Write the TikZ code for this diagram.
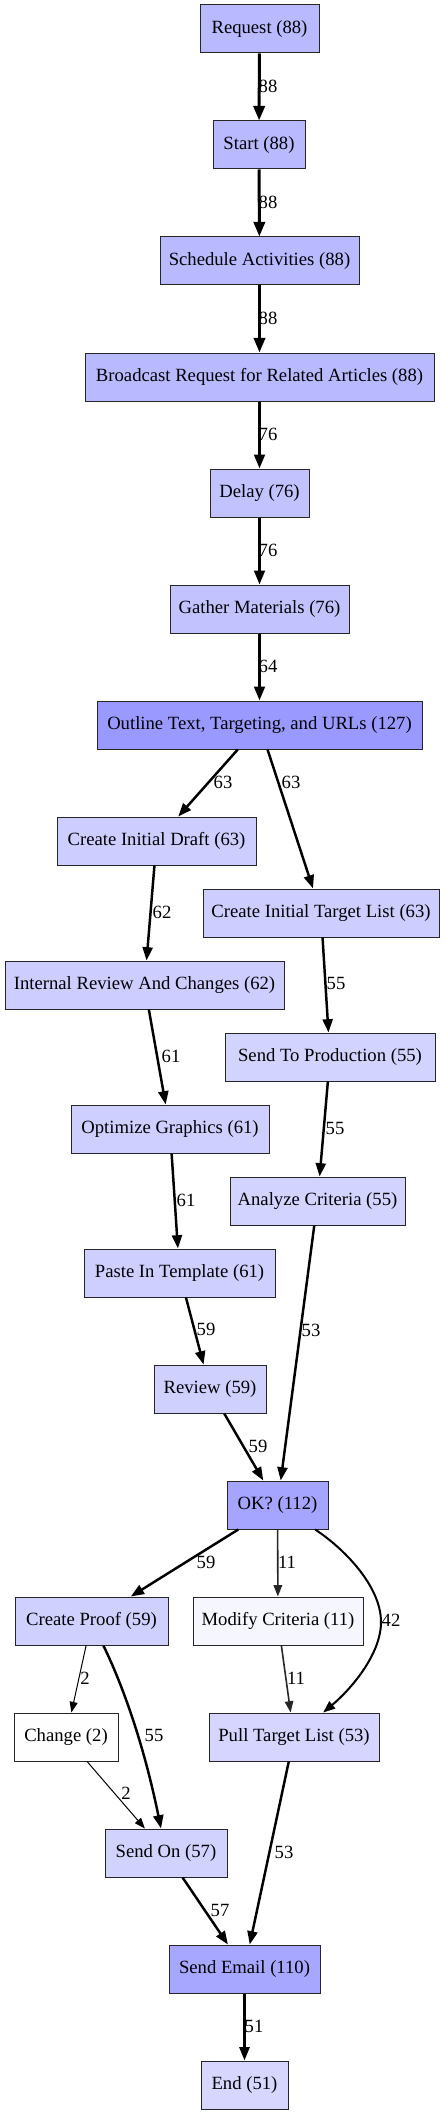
\documentclass[tikz,border=0pt]{standalone}
\usepackage{fontspec}
\setmainfont{Liberation Serif}
\usetikzlibrary{arrows.meta}
\definecolor{c127}{RGB}{153,153,255}
\definecolor{c112}{RGB}{165,165,255}
\definecolor{c110}{RGB}{167,167,255}
\definecolor{c88}{RGB}{185,185,255}
\definecolor{c76}{RGB}{194,194,255}
\definecolor{c63}{RGB}{205,205,255}
\definecolor{c62}{RGB}{205,205,255}
\definecolor{c61}{RGB}{206,206,255}
\definecolor{c59}{RGB}{208,208,255}
\definecolor{c57}{RGB}{210,210,255}
\definecolor{c55}{RGB}{211,211,255}
\definecolor{c53}{RGB}{213,213,255}
\definecolor{c51}{RGB}{214,214,255}
\definecolor{c11}{RGB}{246,246,255}
\definecolor{c2}{RGB}{254,254,255}
\begin{document}
\begin{tikzpicture}[x=0.75pt,y=-0.75pt,
  box/.style={draw=black!85,line width=0.75pt,rectangle,inner sep=0pt,minimum height=36pt,font=\fontsize{14}{16}\selectfont},
  lbl/.style={inner sep=0pt,text height=9.46pt,text depth=0pt,font=\fontsize{14}{16}\selectfont},
  ea/.style={draw=black,line width=2.25pt,-{Triangle[length=11pt,width=8.5pt]}},
  eb/.style={draw=black,line width=2.05pt,-{Triangle[length=10.5pt,width=8pt]}},
  ec/.style={draw=black,line width=1.85pt,-{Triangle[length=10pt,width=7.5pt]}},
  ed/.style={draw=black,line width=1.5pt,-{Triangle[length=9pt,width=6.8pt]}},
  ee/.style={draw=black!85,line width=1.2pt,-{Triangle[length=8.5pt,width=6.3pt]}},
  ef/.style={draw=black,line width=0.75pt,-{Triangle[length=8pt,width=6pt]}}]
\useasboundingbox (0,0) rectangle (444,2115);
\fill[white] (0,0) rectangle (444,2115);
% nodes
\node[box,fill=c88,minimum width=89.25pt] (req) at (259.5,29) {Request (88)};
\node[box,fill=c88,minimum width=69pt] (start) at (259,145) {Start (88)};
\node[box,fill=c88,minimum width=149.25pt] (sched) at (259.5,261) {Schedule Activities (88)};
\node[box,fill=c88,minimum width=261.75pt] (bcast) at (259.5,377) {Broadcast Request for Related Articles (88)};
\node[box,fill=c76,minimum width=74.25pt] (delay) at (259.5,493) {Delay (76)};
\node[box,fill=c76,minimum width=134.25pt] (gather) at (259.5,609) {Gather Materials (76)};
\node[box,fill=c127,minimum width=243.75pt] (outline) at (259.5,725) {Outline Text, Targeting, and URLs (127)};
\node[box,fill=c63,minimum width=149.25pt] (draft) at (156.5,841) {Create Initial Draft (63)};
\node[box,fill=c63,minimum width=177pt] (tlist) at (321,913) {Create Initial Target List (63)};
\node[box,fill=c62,minimum width=209.25pt] (internal) at (144.5,985) {Internal Review And Changes (62)};
\node[box,fill=c55,minimum width=157.5pt] (sendprod) at (330,1057) {Send To Production (55)};
\node[box,fill=c61,minimum width=148.5pt] (optimize) at (170,1129) {Optimize Graphics (61)};
\node[box,fill=c55,minimum width=131.25pt] (analyze) at (317.5,1201) {Analyze Criteria (55)};
\node[box,fill=c61,minimum width=143.25pt] (paste) at (179.5,1273) {Paste In Template (61)};
\node[box,fill=c59,minimum width=84pt] (review) at (210,1389) {Review (59)};
\node[box,fill=c112,minimum width=75.75pt] (ok) at (277.5,1505) {OK? (112)};
\node[box,fill=c59,minimum width=114.75pt] (proof) at (91.5,1621) {Create Proof (59)};
\node[box,fill=c11,minimum width=127.5pt] (modify) at (278,1621) {Modify Criteria (11)};
\node[box,fill=c2,minimum width=78pt] (change) at (66,1737) {Change (2)};
\node[box,fill=c53,minimum width=127.5pt] (pull) at (294,1737) {Pull Target List (53)};
\node[box,fill=c57,minimum width=91.5pt] (sendon) at (166,1853) {Send On (57)};
\node[box,fill=c110,minimum width=113.25pt] (email) at (244.5,1969) {Send Email (110)};
\node[box,fill=c51,minimum width=65.25pt] (end) at (244.5,2085) {End (51)};
% edges
\draw[ea] (req) -- (start);
\draw[ea] (start) -- (sched);
\draw[ea] (sched) -- (bcast);
\draw[eb] (bcast) -- (delay);
\draw[eb] (delay) -- (gather);
\draw[eb] (gather) -- (outline);
\draw[ec] (outline) -- (draft);
\draw[ec] (outline) -- (tlist);
\draw[ec] (draft) -- (internal);
\draw[ec] (tlist) -- (sendprod);
\draw[ec] (internal) -- (optimize);
\draw[ec] (sendprod) -- (analyze);
\draw[ec] (optimize) -- (paste);
\draw[ec] (analyze) -- (ok);
\draw[ec] (paste) -- (review);
\draw[ec] (review) -- (ok);
\draw[ec] (ok) -- (proof);
\draw[ee] (ok) -- (modify);
\coordinate (bend42) at (381,1622);
\draw[ed] (ok) .. controls (342,1547) and (381,1585) .. (bend42) .. controls (381,1655) and (350,1690) .. (pull);
\draw[ef] (proof) -- (change);
\draw[ee] (modify) -- (pull);
\draw[ec] (proof) .. controls (125,1690) and (145,1750) .. (sendon);
\draw[ef] (change) -- (sendon);
\draw[ec] (pull) -- (email);
\draw[ec] (sendon) -- (email);
\draw[ec] (email) -- (end);
% edge labels
\node[lbl] (l1) at (268,86) {88};
\node[lbl] (l2) at (268,202) {88};
\node[lbl] (l3) at (268,318) {88};
\node[lbl] (l4) at (268,434) {76};
\node[lbl] (l5) at (268,550) {76};
\node[lbl] (l6) at (268,666) {64};
\node[lbl] (l7) at (223,782) {63};
\node[lbl] (l8) at (291,782) {63};
\node[lbl] (l9) at (162,912) {62};
\node[lbl] (l10) at (336,983) {55};
\node[lbl] (l11) at (171,1056) {61};
\node[lbl] (l12) at (335,1128) {55};
\node[lbl] (l13) at (186,1200) {61};
\node[lbl] (l14) at (206,1329) {59};
\node[lbl] (l15) at (311,1330) {53};
\node[lbl] (l16) at (258,1446) {59};
\node[lbl] (l17) at (206,1562) {59};
\node[lbl] (l18) at (287,1562) {11};
\node[lbl] (l19) at (391,1620) {42};
\node[lbl] (l20) at (85,1678) {2};
\node[lbl] (l21) at (296,1678) {11};
\node[lbl] (l22) at (154,1735) {55};
\node[lbl] (l23) at (126,1793) {2};
\node[lbl] (l24) at (284,1852) {53};
\node[lbl] (l25) at (220,1910) {57};
\node[lbl] (l26) at (254,2026) {51};
\end{tikzpicture}
\end{document}
